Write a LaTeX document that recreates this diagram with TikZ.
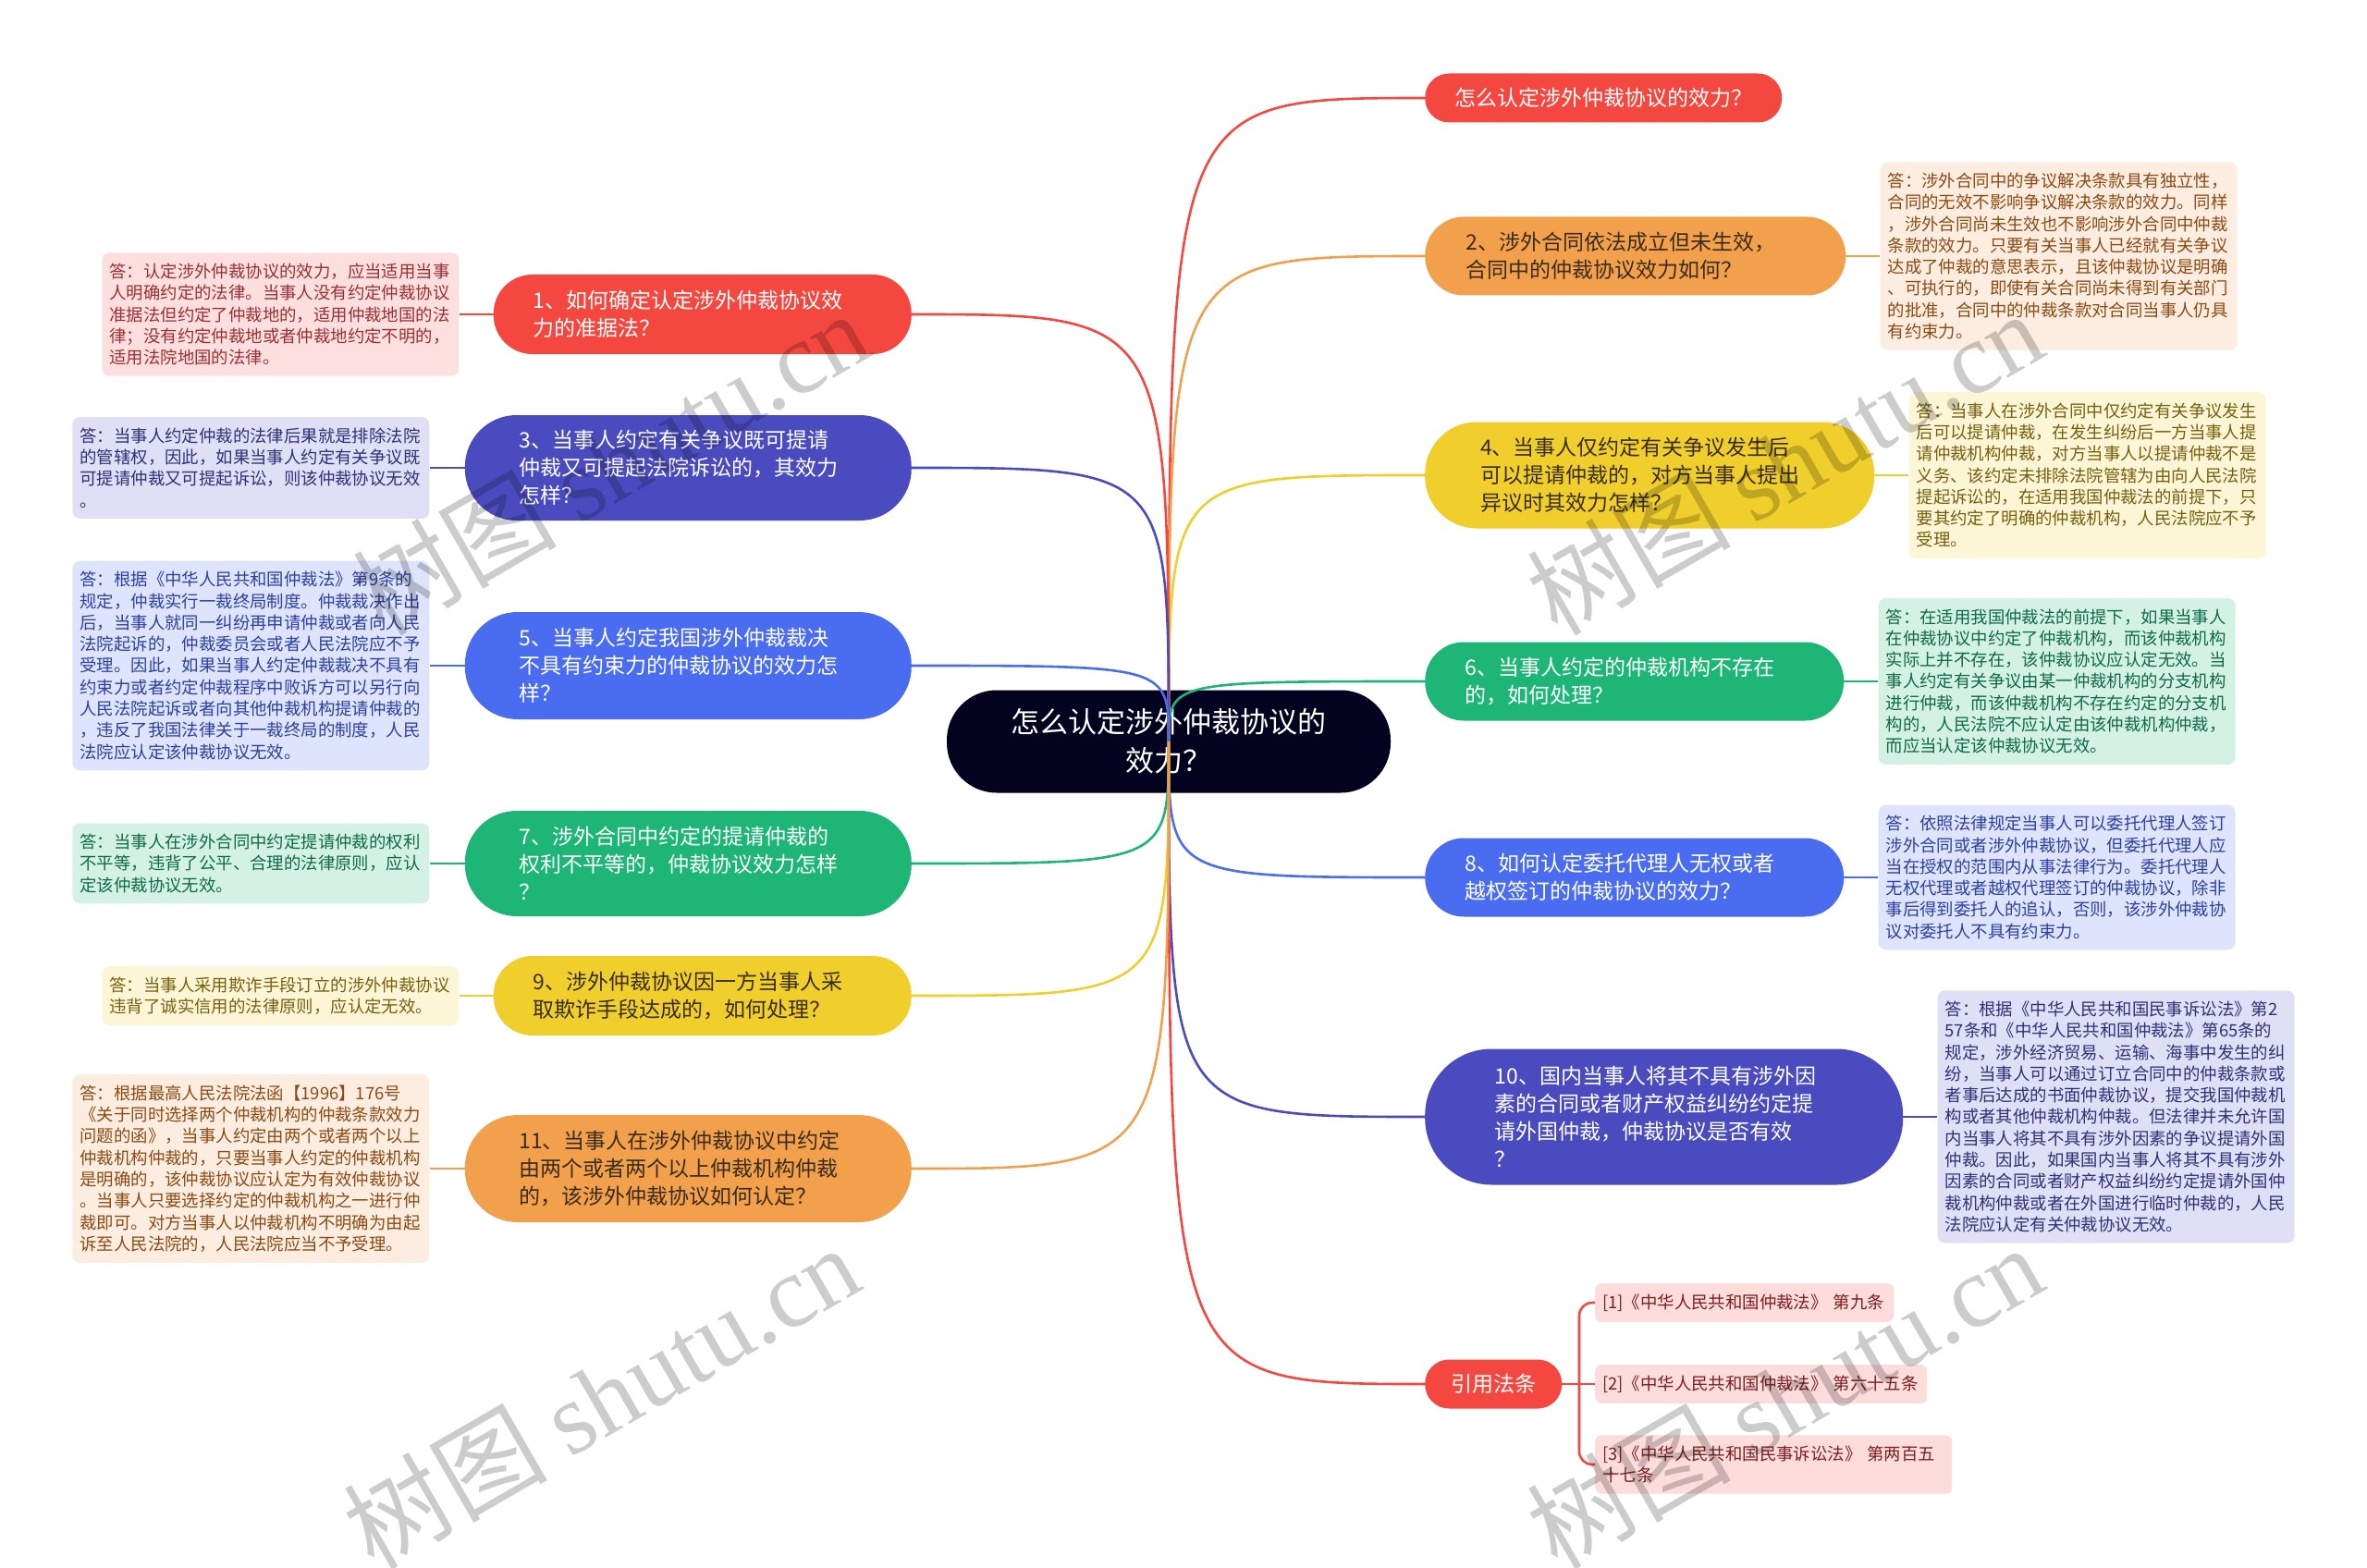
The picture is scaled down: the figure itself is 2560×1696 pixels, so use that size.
\documentclass[tikz,border=0pt]{standalone}
\usepackage{fontspec}
\setmainfont{Noto Sans CJK SC}
\newfontfamily\wmserif{Liberation Serif}
\usetikzlibrary{positioning}
\definecolor{cRed}{HTML}{F4473F}
\definecolor{cOrange}{HTML}{F2A04C}
\definecolor{cYellow}{HTML}{F0CF2C}
\definecolor{cGreen}{HTML}{1DB676}
\definecolor{cBlue}{HTML}{4A6CF0}
\definecolor{cIndigo}{HTML}{4B4BC0}
\definecolor{cDark}{HTML}{03031F}
\definecolor{tDark}{HTML}{3A2C1C}
\definecolor{fRed}{HTML}{FDDFDF}\definecolor{tRed}{HTML}{9A3030}
\definecolor{fOrange}{HTML}{FCEDE0}\definecolor{tOrange}{HTML}{8A4B14}
\definecolor{fYellow}{HTML}{FCF6D6}\definecolor{tYellow}{HTML}{76600F}
\definecolor{fGreen}{HTML}{D4F2E4}\definecolor{tGreen}{HTML}{0F6A46}
\definecolor{fBlue}{HTML}{DEE4FC}\definecolor{tBlue}{HTML}{2C40A0}
\definecolor{fIndigo}{HTML}{DFDFF5}\definecolor{tIndigo}{HTML}{303078}
\definecolor{fCite}{HTML}{FDDCDC}\definecolor{tCite}{HTML}{7A1E1E}
\tikzset{
  branch/.style={text width=366pt, align=left, inner sep=0pt, font=\fontsize{23}{30}\selectfont},
  single/.style={align=center, inner sep=0pt, font=\fontsize{23}{30}\selectfont, text=white, fill=cRed},
  ans/.style={rounded corners=8pt, text width=370pt, align=left, inner xsep=8pt, inner ysep=11.5pt, font=\fontsize{18.4}{23.3}\selectfont},
  cite/.style={rounded corners=7pt, align=left, inner xsep=8pt, inner ysep=11.5pt, fill=fCite, text=tCite, font=\fontsize{18.4}{23.3}\selectfont},
  link/.style={line width=2.6pt},
  wmark/.style={rotate=30, opacity=0.2, text=black, font=\fontsize{110}{120}\selectfont},
}
\begin{document}
\begin{tikzpicture}[x=1pt, y=-1pt]
\useasboundingbox[fill=white] (0,0) rectangle (2560,1696);

% central node
\node[fill=cDark, text=white, minimum width=480pt, minimum height=111pt, rounded corners=54pt, align=center, inner sep=0pt, font=\fontsize{31}{42}\selectfont] (C) at (1264,802) {怎么认定涉外仲裁协议的\\效力？};

% right branches
\node[single, minimum width=386pt, minimum height=53pt, rounded corners=26pt, anchor=west] (R0) at (1541,106) {怎么认定涉外仲裁协议的效力？};
\node[branch, fill=cOrange, text=tDark, minimum width=455pt, minimum height=85pt, rounded corners=42pt, anchor=west] (R1) at (1541,277) {2、涉外合同依法成立但未生效，\\合同中的仲裁协议效力如何？};
\node[branch, fill=cYellow, text=tDark, minimum width=486pt, minimum height=115pt, rounded corners=56pt, anchor=west] (R2) at (1541,514) {4、当事人仅约定有关争议发生后\\可以提请仲裁的，对方当事人提出\\异议时其效力怎样？};
\node[branch, fill=cGreen, text=white, minimum width=453pt, minimum height=85pt, rounded corners=42pt, anchor=west] (R3) at (1541,737) {6、当事人约定的仲裁机构不存在\\的，如何处理？};
\node[branch, fill=cBlue, text=white, minimum width=453pt, minimum height=85pt, rounded corners=42pt, anchor=west] (R4) at (1541,949) {8、如何认定委托代理人无权或者\\越权签订的仲裁协议的效力？};
\node[branch, fill=cIndigo, text=white, minimum width=517pt, minimum height=147pt, rounded corners=72pt, anchor=west] (R5) at (1541,1208) {10、国内当事人将其不具有涉外因\\素的合同或者财产权益纠纷约定提\\请外国仲裁，仲裁协议是否有效\\？};
\node[single, minimum width=148pt, minimum height=53pt, rounded corners=26pt, anchor=west] (R6) at (1541,1497) {引用法条};

% left branches
\node[branch, fill=cRed, text=white, minimum width=452pt, minimum height=86pt, rounded corners=42pt, anchor=east] (L1) at (986,340) {1、如何确定认定涉外仲裁协议效\\力的准据法？};
\node[branch, fill=cIndigo, text=white, minimum width=483pt, minimum height=114pt, rounded corners=56pt, anchor=east] (L3) at (986,506) {3、当事人约定有关争议既可提请\\仲裁又可提起法院诉讼的，其效力\\怎样？};
\node[branch, fill=cBlue, text=white, minimum width=483pt, minimum height=116pt, rounded corners=57pt, anchor=east] (L5) at (986,720) {5、当事人约定我国涉外仲裁裁决\\不具有约束力的仲裁协议的效力怎\\样？};
\node[branch, fill=cGreen, text=white, minimum width=483pt, minimum height=114pt, rounded corners=56pt, anchor=east] (L7) at (986,934) {7、涉外合同中约定的提请仲裁的\\权利不平等的，仲裁协议效力怎样\\？};
\node[branch, fill=cYellow, text=tDark, minimum width=452pt, minimum height=86pt, rounded corners=42pt, anchor=east] (L9) at (986,1077) {9、涉外仲裁协议因一方当事人采\\取欺诈手段达成的，如何处理？};
\node[branch, fill=cOrange, text=tDark, minimum width=483pt, minimum height=116pt, rounded corners=57pt, anchor=east] (L11) at (986,1264) {11、当事人在涉外仲裁协议中约定\\由两个或者两个以上仲裁机构仲裁\\的，该涉外仲裁协议如何认定？};

% answers, right
\node[ans, fill=fOrange, text=tOrange, right=37pt of R1] (A2) {答：涉外合同中的争议解决条款具有独立性，\\合同的无效不影响争议解决条款的效力。同样\\，涉外合同尚未生效也不影响涉外合同中仲裁\\条款的效力。只要有关当事人已经就有关争议\\达成了仲裁的意思表示，且该仲裁协议是明确\\、可执行的，即使有关合同尚未得到有关部门\\的批准，合同中的仲裁条款对合同当事人仍具\\有约束力。};
\node[ans, fill=fYellow, text=tYellow, right=37pt of R2] (A4) {答：当事人在涉外合同中仅约定有关争议发生\\后可以提请仲裁，在发生纠纷后一方当事人提\\请仲裁机构仲裁，对方当事人以提请仲裁不是\\义务、该约定未排除法院管辖为由向人民法院\\提起诉讼的，在适用我国仲裁法的前提下，只\\要其约定了明确的仲裁机构，人民法院应不予\\受理。};
\node[ans, fill=fGreen, text=tGreen, right=37pt of R3] (A6) {答：在适用我国仲裁法的前提下，如果当事人\\在仲裁协议中约定了仲裁机构，而该仲裁机构\\实际上并不存在，该仲裁协议应认定无效。当\\事人约定有关争议由某一仲裁机构的分支机构\\进行仲裁，而该仲裁机构不存在约定的分支机\\构的，人民法院不应认定由该仲裁机构仲裁，\\而应当认定该仲裁协议无效。};
\node[ans, fill=fBlue, text=tBlue, right=37pt of R4] (A8) {答：依照法律规定当事人可以委托代理人签订\\涉外合同或者涉外仲裁协议，但委托代理人应\\当在授权的范围内从事法律行为。委托代理人\\无权代理或者越权代理签订的仲裁协议，除非\\事后得到委托人的追认，否则，该涉外仲裁协\\议对委托人不具有约束力。};
\node[ans, fill=fIndigo, text=tIndigo, right=37pt of R5] (A10) {答：根据《中华人民共和国民事诉讼法》第2\\57条和《中华人民共和国仲裁法》第65条的\\规定，涉外经济贸易、运输、海事中发生的纠\\纷，当事人可以通过订立合同中的仲裁条款或\\者事后达成的书面仲裁协议，提交我国仲裁机\\构或者其他仲裁机构仲裁。但法律并未允许国\\内当事人将其不具有涉外因素的争议提请外国\\仲裁。因此，如果国内当事人将其不具有涉外\\因素的合同或者财产权益纠纷约定提请外国仲\\裁机构仲裁或者在外国进行临时仲裁的，人民\\法院应认定有关仲裁协议无效。};

% answers, left
\node[ans, fill=fRed, text=tRed, left=37pt of L1] (A1) {答：认定涉外仲裁协议的效力，应当适用当事\\人明确约定的法律。当事人没有约定仲裁协议\\准据法但约定了仲裁地的，适用仲裁地国的法\\律；没有约定仲裁地或者仲裁地约定不明的，\\适用法院地国的法律。};
\node[ans, fill=fIndigo, text=tIndigo, left=38pt of L3] (A3) {答：当事人约定仲裁的法律后果就是排除法院\\的管辖权，因此，如果当事人约定有关争议既\\可提请仲裁又可提起诉讼，则该仲裁协议无效\\。};
\node[ans, fill=fBlue, text=tBlue, left=38pt of L5] (A5) {答：根据《中华人民共和国仲裁法》第9条的\\规定，仲裁实行一裁终局制度。仲裁裁决作出\\后，当事人就同一纠纷再申请仲裁或者向人民\\法院起诉的，仲裁委员会或者人民法院应不予\\受理。因此，如果当事人约定仲裁裁决不具有\\约束力或者约定仲裁程序中败诉方可以另行向\\人民法院起诉或者向其他仲裁机构提请仲裁的\\，违反了我国法律关于一裁终局的制度，人民\\法院应认定该仲裁协议无效。};
\node[ans, fill=fGreen, text=tGreen, left=38pt of L7] (A7) {答：当事人在涉外合同中约定提请仲裁的权利\\不平等，违背了公平、合理的法律原则，应认\\定该仲裁协议无效。};
\node[ans, fill=fYellow, text=tYellow, left=37pt of L9] (A9) {答：当事人采用欺诈手段订立的涉外仲裁协议\\违背了诚实信用的法律原则，应认定无效。};
\node[ans, fill=fOrange, text=tOrange, left=38pt of L11] (A11) {答：根据最高人民法院法函【1996】176号\\《关于同时选择两个仲裁机构的仲裁条款效力\\问题的函》，当事人约定由两个或者两个以上\\仲裁机构仲裁的，只要当事人约定的仲裁机构\\是明确的，该仲裁协议应认定为有效仲裁协议\\。当事人只要选择约定的仲裁机构之一进行仲\\裁即可。对方当事人以仲裁机构不明确为由起\\诉至人民法院的，人民法院应当不予受理。};

% citations
\coordinate (bj) at (1708,1497);
\node[cite, text width=307pt, anchor=west] (K1) at (1725,1409) {[1]《中华人民共和国仲裁法》 第九条};
\node[cite, text width=343pt, anchor=west] (K2) at (1725,1497) {[2]《中华人民共和国仲裁法》 第六十五条};
\node[cite, text width=370pt, anchor=west] (K3) at (1725,1584) {[3]《中华人民共和国民事诉讼法》 第两百五\\十七条};

% connectors from centre
\draw[link, cRed] (C.center) .. controls (C.center |- R0.west) .. (R0.west);
\draw[link, cOrange] (C.center) .. controls (C.center |- R1.west) .. (R1.west);
\draw[link, cYellow] (C.center) .. controls (C.center |- R2.west) .. (R2.west);
\draw[link, cGreen] (C.center) .. controls (C.center |- R3.west) .. (R3.west);
\draw[link, cBlue] (C.center) .. controls (C.center |- R4.west) .. (R4.west);
\draw[link, cIndigo] (C.center) .. controls (C.center |- R5.west) .. (R5.west);
\draw[link, cRed] (C.center) .. controls (C.center |- R6.west) .. (R6.west);
\draw[link, cRed] (C.center) .. controls (C.center |- L1.east) .. (L1.east);
\draw[link, cIndigo] (C.center) .. controls (C.center |- L3.east) .. (L3.east);
\draw[link, cBlue] (C.center) .. controls (C.center |- L5.east) .. (L5.east);
\draw[link, cGreen] (C.center) .. controls (C.center |- L7.east) .. (L7.east);
\draw[link, cYellow] (C.center) .. controls (C.center |- L9.east) .. (L9.east);
\draw[link, cOrange] (C.center) .. controls (C.center |- L11.east) .. (L11.east);

% branch to answer
\draw[link, cOrange] (R1.east) -- (A2.west);
\draw[link, cYellow] (R2.east) -- (A4.west);
\draw[link, cGreen] (R3.east) -- (A6.west);
\draw[link, cBlue] (R4.east) -- (A8.west);
\draw[link, cIndigo] (R5.east) -- (A10.west);
\draw[link, cRed] (L1.west) -- (A1.east);
\draw[link, cIndigo] (L3.west) -- (A3.east);
\draw[link, cBlue] (L5.west) -- (A5.east);
\draw[link, cGreen] (L7.west) -- (A7.east);
\draw[link, cYellow] (L9.west) -- (A9.east);
\draw[link, cOrange] (L11.west) -- (A11.east);

% citation bracket
\draw[link, cRed] (R6.east) -- (bj) -- (K2.west);
\draw[link, cRed, rounded corners=14pt] (K1.west) -| (bj) |- (K3.west);

% watermarks
\node[wmark] (wm1) at (660,500) {树图 {\wmserif shutu.cn}};
\node[wmark] (wm2) at (1930,500) {树图 {\wmserif shutu.cn}};
\node[wmark] (wm3) at (650,1510) {树图 {\wmserif shutu.cn}};
\node[wmark] (wm4) at (1930,1510) {树图 {\wmserif shutu.cn}};
\end{tikzpicture}
\end{document}
